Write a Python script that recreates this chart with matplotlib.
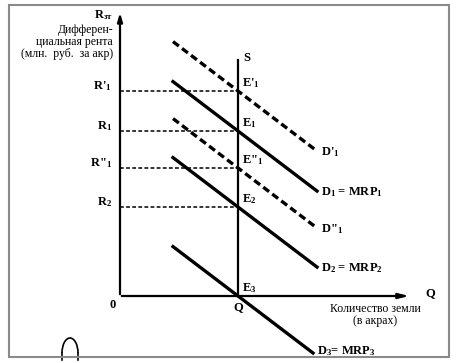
import matplotlib
matplotlib.use("Agg")
import matplotlib.pyplot as plt
from matplotlib.patches import Rectangle, Arc

# economic diagram data (x = quantity of land, y = rent)
q_supply = 118
rent_levels = [205, 165, 128, 89]
rent_labels = ["R'$_1$", "R$_1$", "R\"$_1$", "R$_2$"]
eq_levels = [205, 165, 128, 89, 0]
eq_labels = ["E'$_1$", "E$_1$", "E\"$_1$", "E$_2$", "E$_3$"]
demand_rents = [205, 165, 128, 89, 0]
demand_styles = ["--", "-", "--", "-", "-"]
demand_labels = ["D'$_1$", "D$_1$ = MRP$_1$", "D\"$_1$", "D$_2$ = MRP$_2$", "D$_3$= MRP$_3$"]
demand_x = [53, 197]
slope = -0.76

plt.rcParams['font.family'] = ['Liberation Serif', 'DejaVu Serif']
plt.rcParams['mathtext.fontset'] = 'custom'
plt.rcParams['mathtext.rm'] = 'Liberation Serif:bold'
plt.rcParams['mathtext.it'] = 'Liberation Serif:bold'
plt.rcParams['mathtext.bf'] = 'Liberation Serif:bold'

fig = plt.figure(figsize=(4.58, 3.63), dpi=100)
ax = fig.add_axes([0, 0, 1, 1])
ax.set_xlim(-120, 338)
ax.set_ylim(-67, 296)
ax.axis('off')

# frame
fig.patches.append(Rectangle((9 / 458, 6 / 363), 440 / 458, 352 / 363, transform=fig.transFigure,
                             fill=False, edgecolor='#8a8a8a', linewidth=1.5))

# axes
ax.annotate('', xy=(0, 286), xytext=(0, -1), arrowprops=dict(arrowstyle='-|>,head_length=0.5,head_width=0.15', color='black', lw=1.6))
ax.annotate('', xy=(292, 0), xytext=(-1, 0), arrowprops=dict(arrowstyle='-|>,head_length=0.6,head_width=0.15', color='black', lw=1.6))

# supply
ax.plot([q_supply, q_supply], [0, 236], color='black', lw=1.6)
ax.text(q_supply + 5, 238, 'S', fontsize=9, fontweight='bold', va='center')

# dashed rent levels
for r, lab in zip(rent_levels, rent_labels):
    ax.plot([0, q_supply], [r, r], color='black', lw=1.1, ls=(0, (2.5, 1.5)))
    ax.text(-8, r + 5, lab, fontsize=9, fontweight='bold', ha='right', va='center')

# demand curves
for r, st, lab in zip(demand_rents, demand_styles, demand_labels):
    x1 = demand_x[1] if r > 0 else 193
    xs = [demand_x[0], x1]
    ys = [r + slope * (x - q_supply) for x in xs]
    if st == '--':
        ax.plot(xs, ys, color='black', lw=2.4, ls=(0, (2.2, 1.2)))
    else:
        ax.plot(xs, ys, color='black', lw=2.4)
    ax.text(x1 + 4, ys[1] - 1 if r > 0 else ys[1] + 2, lab, fontsize=9, fontweight='bold', va='center')

# equilibrium points
for r, lab in zip(eq_levels, eq_labels):
    ax.text(q_supply + 4, r + 8, lab, fontsize=9, fontweight='bold', va='center')

# axis labels
ax.text(-17, 281, 'R$_{зт}$', fontsize=9, fontweight='bold', ha='center', va='center')
ax.text(-7, 254, 'Дифферен-\nциальная рента\n(млн.  руб.  за акр)', fontsize=8.5, ha='right',
        va='center', linespacing=0.95)
ax.text(-7, -9, '0', fontsize=9, fontweight='bold', ha='center', va='center')
ax.text(q_supply, -11, 'Q', fontsize=9, fontweight='bold', ha='center', va='center')
ax.text(310, 3, 'Q', fontsize=9, fontweight='bold', ha='center', va='center')
ax.text(255, -19, 'Количество земли\n(в акрах)', fontsize=8.5, ha='center', va='center', linespacing=0.95)

# hand-drawn loop at bottom
ax.add_patch(Arc((-50, -57), 16, 30, theta1=0, theta2=180, color='black', lw=1.2))
ax.plot([-58, -58], [-57, -64], color='black', lw=1.2)
ax.plot([-42, -42], [-57, -64], color='black', lw=1.2)

fig.savefig('out.png', dpi=100)
